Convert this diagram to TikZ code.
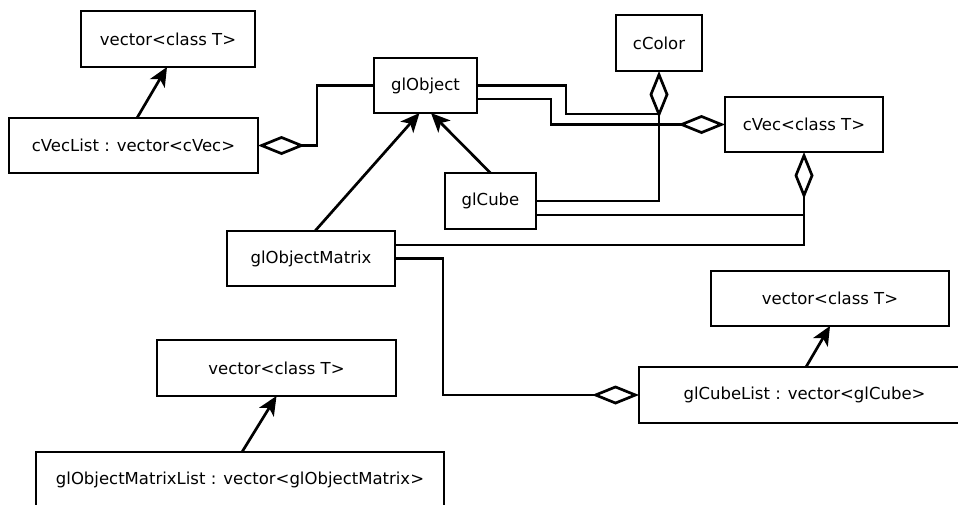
\documentclass[tikz,border=0pt]{standalone}
\usepackage{fontspec}
\setmainfont{DejaVu Sans}
\usetikzlibrary{arrows.meta,calc}
\begin{document}
\begin{tikzpicture}[x=1pt,y=-1pt,
  box/.style={draw, line width=2.7pt, rectangle, inner sep=0pt, outer sep=0pt, fill=white,
    font=\fontsize{16.5}{20}\selectfont},
  conn/.style={line width=2.7pt, line join=miter},
  inh/.style={conn, -{Stealth[length=19pt,width=17pt,inset=5pt]}},
  agg/.style={conn, -{Diamond[open,length=47pt,width=19pt]}}]
\useasboundingbox (0,0) rectangle (958,504);
\clip (0,0) rectangle (958,504);
\fill[white] (0,0) rectangle (958,504);

% classes
\node[box, minimum width=174pt, minimum height=56pt] (v1) at (168,39) {vector<class T>};
\node[box, minimum width=249pt, minimum height=55pt] (cvl) at (133.5,145.5) {cVecList : vector<cVec>};
\node[box, minimum width=103pt, minimum height=55pt] (glo) at (425.5,85.5) {glObject};
\node[box, minimum width=86pt, minimum height=56pt] (cco) at (659,43) {cColor};
\node[box, minimum width=158pt, minimum height=55pt] (cvec) at (804,124.5) {cVec<class T>};
\node[box, minimum width=91pt, minimum height=56pt] (cube) at (490.5,201) {glCube};
\node[box, minimum width=168pt, minimum height=55pt] (gom) at (311,258.5) {glObjectMatrix};
\node[box, minimum width=238pt, minimum height=55pt] (v2) at (830,298.5) {vector<class T>};
\node[box, minimum width=331pt, minimum height=56pt] (gcl) at (804.5,395) {glCubeList : vector<glCube>};
\node[box, minimum width=239pt, minimum height=56pt] (v3) at (276.5,368) {vector<class T>};
\node[box, minimum width=408pt, minimum height=55pt] (goml) at (240,479.5) {glObjectMatrixList : vector<glObjectMatrix>};

% join points
\coordinate (jcol) at ($(cco.south)+(0,43)$);
\coordinate (jvec) at ($(cvec.south)+(0,63)$);

% inheritance
\draw[inh] ([xshift=3.5pt]cvl.north) -- ([xshift=-1pt]v1.south);
\draw[inh] ([xshift=4pt]gom.north) -- ([xshift=-6pt]glo.south);
\draw[inh] (cube.north) -- ([xshift=5.5pt]glo.south);
\draw[inh] ([xshift=1.5pt]gcl.north) -- (v2.south);
\draw[inh] ([xshift=2pt]goml.north) -- (v3.south);

% aggregations
\draw[agg] (glo.west) -- ++(-57,0) |- (cvl.east);
\draw[agg] (cube.east) -| (cco.south);
\draw[conn] (glo.east) -- ++(89,0) |- (jcol);
\draw[agg] ($(glo.east)+(0,13.5)$) -- ++(74,0) |- (cvec.west);
\draw[agg] ($(cube.east)+(0,14)$) -| (cvec.south);
\draw[conn] ($(gom.east)+(0,-13.5)$) -| (jvec);
\draw[agg] (gom.east) -- ++(48,0) |- (gcl.west);
\end{tikzpicture}
\end{document}
